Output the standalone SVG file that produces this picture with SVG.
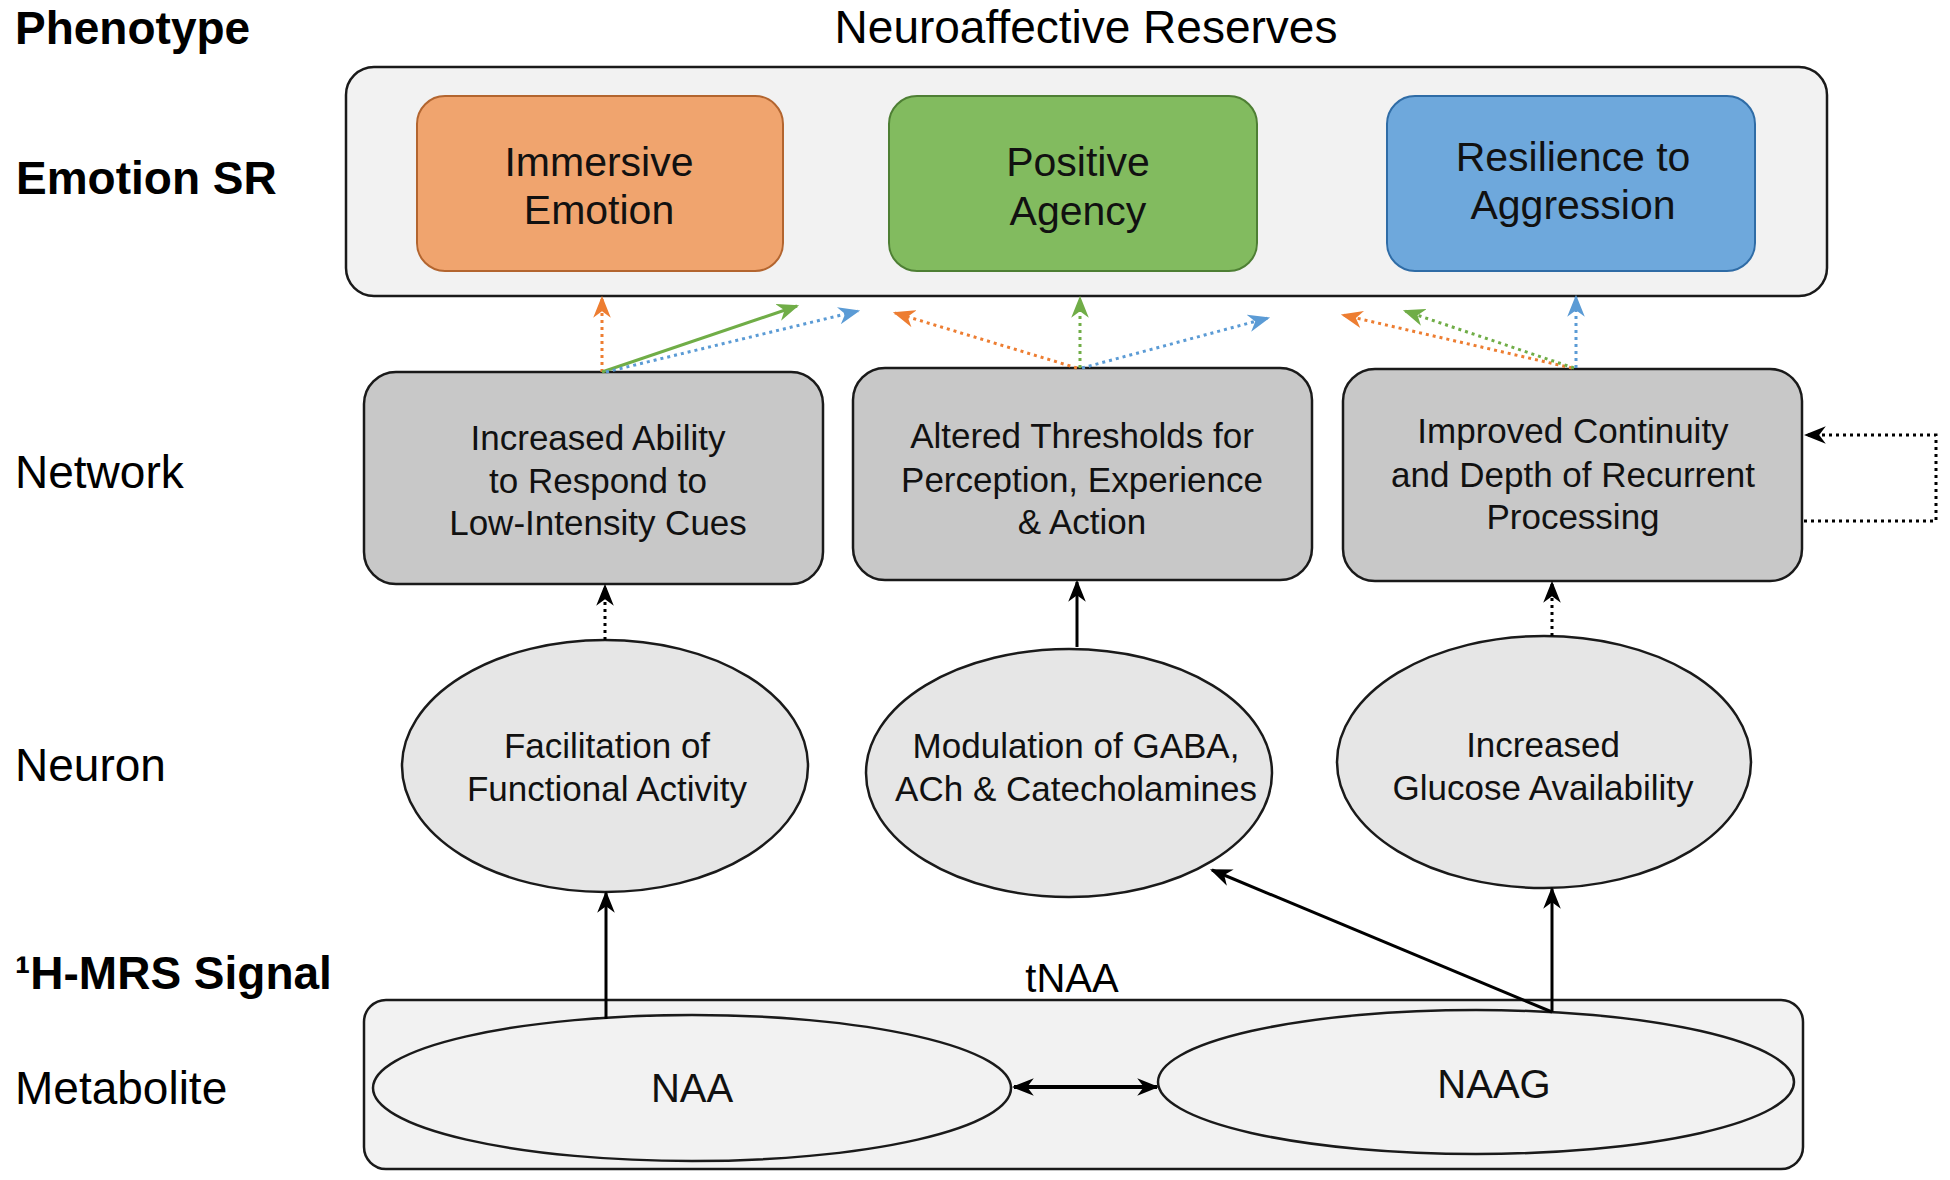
<svg xmlns="http://www.w3.org/2000/svg" width="1950" height="1180" viewBox="0 0 1950 1180">
<defs>
<style>
.lbl{font-family:"Liberation Sans",Arial,sans-serif;font-size:46px;fill:#000}
.b{font-weight:bold}
.t{font-family:"Liberation Sans",Arial,sans-serif;fill:#111;text-anchor:middle;dominant-baseline:central}
.t40{font-size:41px}
.t34{font-size:35px}
.net{fill:#c8c8c8;stroke:#1a1a1a;stroke-width:2.5}
.neu{fill:#e6e6e6;stroke:#1a1a1a;stroke-width:2.5}
.out{fill:#f2f2f2;stroke:#1a1a1a;stroke-width:2.5}
.k{fill:none;stroke:#000;stroke-width:3}
.dot{stroke-dasharray:3 4}
.or{stroke:#ED7D31}
.gr{stroke:#70AD47}
.bl{stroke:#5B9BD5}
</style>
<marker id="ak" viewBox="0 0 20 16" refX="18" refY="8" markerWidth="22" markerHeight="18" markerUnits="userSpaceOnUse" orient="auto"><path d="M0,0 L20,8 L0,16 L6,8 z" fill="#000"/></marker>
<marker id="aks" viewBox="0 0 20 16" refX="18" refY="8" markerWidth="22" markerHeight="18" markerUnits="userSpaceOnUse" orient="auto-start-reverse"><path d="M0,0 L20,8 L0,16 L6,8 z" fill="#000"/></marker>
<marker id="ao" viewBox="0 0 20 16" refX="18" refY="8" markerWidth="22" markerHeight="18" markerUnits="userSpaceOnUse" orient="auto"><path d="M0,0 L20,8 L0,16 L6,8 z" fill="#ED7D31"/></marker>
<marker id="ag" viewBox="0 0 20 16" refX="18" refY="8" markerWidth="22" markerHeight="18" markerUnits="userSpaceOnUse" orient="auto"><path d="M0,0 L20,8 L0,16 L6,8 z" fill="#70AD47"/></marker>
<marker id="ab" viewBox="0 0 20 16" refX="18" refY="8" markerWidth="22" markerHeight="18" markerUnits="userSpaceOnUse" orient="auto"><path d="M0,0 L20,8 L0,16 L6,8 z" fill="#5B9BD5"/></marker>
</defs>
<rect width="1950" height="1180" fill="#fff"/>

<g id="labels">
<text class="lbl b" x="15" y="44">Phenotype</text>
<text class="lbl b" x="16" y="194">Emotion SR</text>
<text class="lbl" x="15" y="488">Network</text>
<text class="lbl" x="15" y="781">Neuron</text>
<text class="lbl b" x="15" y="989">¹H-MRS Signal</text>
<text class="lbl" x="15" y="1104">Metabolite</text>
<text class="lbl" x="1086" y="43" text-anchor="middle">Neuroaffective Reserves</text>
<text class="lbl" x="1072" y="992" text-anchor="middle" style="font-size:40px">tNAA</text>
</g>

<g id="reserves">
<rect class="out" x="346" y="67" width="1481" height="229" rx="28"/>
</g>
<g id="immersive">
<rect x="417" y="96" width="366" height="175" rx="28" fill="#F0A46E" stroke="#B3652F" stroke-width="2"/>
<text class="t t40" x="599" y="162">Immersive</text>
<text class="t t40" x="599" y="210">Emotion</text>
</g>
<g id="agency">
<rect x="889" y="96" width="368" height="175" rx="28" fill="#82BB5F" stroke="#4E7F34" stroke-width="2"/>
<text class="t t40" x="1078" y="162">Positive</text>
<text class="t t40" x="1078" y="211">Agency</text>
</g>
<g id="resilience">
<rect x="1387" y="96" width="368" height="175" rx="28" fill="#6EA8DC" stroke="#2F6CA6" stroke-width="2"/>
<text class="t t40" x="1573" y="157">Resilience to</text>
<text class="t t40" x="1573" y="205">Aggression</text>
</g>

<g id="net1">
<rect class="net" x="364" y="372" width="459" height="212" rx="32"/>
<text class="t t34" x="598" y="437">Increased Ability</text>
<text class="t t34" x="598" y="480">to Respond to</text>
<text class="t t34" x="598" y="522">Low-Intensity Cues</text>
</g>
<g id="net2">
<rect class="net" x="853" y="368" width="459" height="212" rx="32"/>
<text class="t t34" x="1082" y="435">Altered Thresholds for</text>
<text class="t t34" x="1082" y="479">Perception, Experience</text>
<text class="t t34" x="1082" y="521">&amp; Action</text>
</g>
<g id="net3">
<rect class="net" x="1343" y="369" width="459" height="212" rx="32"/>
<text class="t t34" x="1573" y="430">Improved Continuity</text>
<text class="t t34" x="1573" y="474">and Depth of Recurrent</text>
<text class="t t34" x="1573" y="516">Processing</text>
</g>

<g id="neu1">
<ellipse class="neu" cx="605" cy="766" rx="203" ry="126"/>
<text class="t t34" x="607" y="745">Facilitation of</text>
<text class="t t34" x="607" y="788">Functional Activity</text>
</g>
<g id="neu2">
<ellipse class="neu" cx="1069" cy="773" rx="203" ry="124"/>
<text class="t t34" x="1076" y="745">Modulation of GABA,</text>
<text class="t t34" x="1076" y="788">ACh &amp; Catecholamines</text>
</g>
<g id="neu3">
<ellipse class="neu" cx="1544" cy="762" rx="207" ry="126"/>
<text class="t t34" x="1543" y="744">Increased</text>
<text class="t t34" x="1543" y="787">Glucose Availability</text>
</g>

<g id="metabolite">
<rect class="out" x="364" y="1000" width="1439" height="169" rx="22"/>
</g>
<g id="naa">
<ellipse cx="692" cy="1088" rx="319" ry="73" fill="#f2f2f2" stroke="#1a1a1a" stroke-width="2.5"/>
<text class="t t40" x="692" y="1088" style="font-size:40px">NAA</text>
</g>
<g id="naag">
<ellipse cx="1476" cy="1082" rx="318" ry="72" fill="#f2f2f2" stroke="#1a1a1a" stroke-width="2.5"/>
<text class="t t40" x="1494" y="1084" style="font-size:40px">NAAG</text>
</g>

<g id="connectors">
<line class="k" x1="1014" y1="1087" x2="1157" y2="1087" style="stroke-width:4" marker-start="url(#aks)" marker-end="url(#ak)"/>
<line class="k" x1="606" y1="1019" x2="606" y2="893" marker-end="url(#ak)"/>
<line class="k" x1="1552" y1="1012" x2="1212" y2="870" marker-end="url(#ak)"/>
<line class="k" x1="1552" y1="1012" x2="1552" y2="889" marker-end="url(#ak)"/>
<line class="k dot" x1="605" y1="640" x2="605" y2="586" marker-end="url(#ak)"/>
<line class="k" x1="1077" y1="647" x2="1077" y2="582" marker-end="url(#ak)"/>
<line class="k dot" x1="1552" y1="636" x2="1552" y2="583" marker-end="url(#ak)"/>
<polyline class="k dot" points="1804,521 1936,521 1936,435 1806,435" marker-end="url(#ak)"/>

<line class="k dot or" x1="602" y1="372" x2="602" y2="298" marker-end="url(#ao)"/>
<line class="k gr" x1="602" y1="372" x2="797" y2="306" marker-end="url(#ag)"/>
<line class="k dot bl" x1="606" y1="372" x2="858" y2="311" marker-end="url(#ab)"/>

<line class="k dot or" x1="1077" y1="368" x2="895" y2="313" marker-end="url(#ao)"/>
<line class="k dot gr" x1="1080" y1="368" x2="1080" y2="298" marker-end="url(#ag)"/>
<line class="k dot bl" x1="1082" y1="368" x2="1268" y2="318" marker-end="url(#ab)"/>

<line class="k dot or" x1="1572" y1="368" x2="1343" y2="315" marker-end="url(#ao)"/>
<line class="k dot gr" x1="1574" y1="368" x2="1405" y2="311" marker-end="url(#ag)"/>
<line class="k dot bl" x1="1576" y1="368" x2="1576" y2="297" marker-end="url(#ab)"/>
</g>
</svg>
